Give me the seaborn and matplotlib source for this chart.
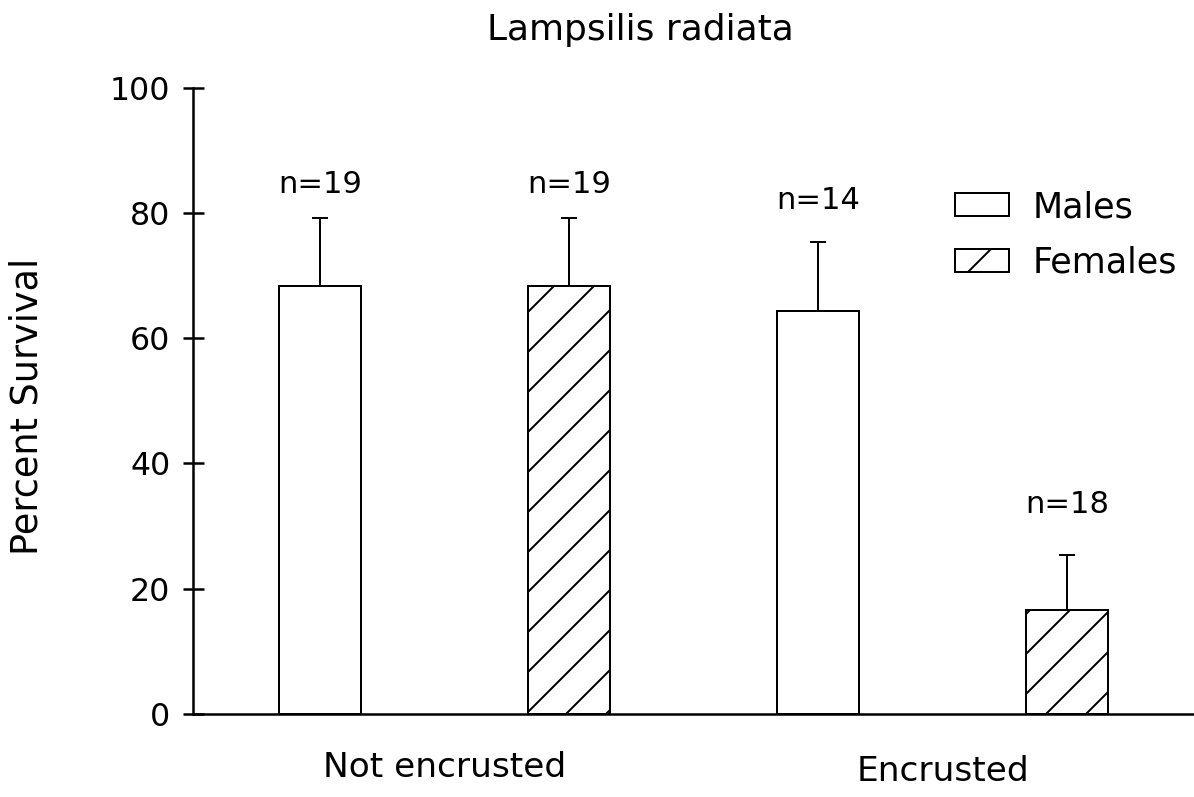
import numpy as np
import pandas as pd
import matplotlib
matplotlib.use("Agg")
import matplotlib.pyplot as plt
import seaborn as sns

# Survival of Lampsilis radiata by sex and zebra-mussel encrustation
conditions = ["Not encrusted", "Encrusted"]
sexes = ["Males", "Females"]
male_survival = [68.3, 64.4]
female_survival = [68.3, 16.6]
male_se = [10.8, 11.0]
female_se = [10.8, 8.8]
male_n = [19, 14]
female_n = [19, 18]

# vertical placement of the sample-size annotations (data units)
n_label_y = [84.5, 84.5, 82.0, 33.5]

rows = []
for i, cond in enumerate(conditions):
    rows.append(dict(bar=f"{cond} | Males", condition=cond, sex="Males",
                     survival=male_survival[i], se=male_se[i], n=male_n[i]))
    rows.append(dict(bar=f"{cond} | Females", condition=cond, sex="Females",
                     survival=female_survival[i], se=female_se[i], n=female_n[i]))
df = pd.DataFrame(rows)
order = list(df["bar"])

sns.set_theme(style="white")
plt.rcParams["font.family"] = ["DejaVu Sans"]
plt.rcParams["hatch.linewidth"] = 0.6
plt.rcParams["hatch.color"] = "black"
plt.rcParams["text.color"] = "black"
plt.rcParams["axes.labelcolor"] = "black"

DPI = 240
fig = plt.figure(figsize=(1194 / DPI, 797 / DPI), dpi=DPI)
ax = fig.add_axes([193 / 1194, 1 - 714 / 797, 1 - 193 / 1194, (714 - 87.5) / 797])

sns.barplot(data=df, x="bar", y="survival", hue="sex", order=order,
            hue_order=sexes, dodge=False, width=0.333,
            palette={"Males": "white", "Females": "white"},
            edgecolor="black", linewidth=0.6, errorbar=None, legend=False, ax=ax)

# hatch the female bars
for patch in ax.containers[1]:
    patch.set_hatch("//")

# upper-only standard error bars
pos = np.arange(len(order))
ax.errorbar(pos, df["survival"], yerr=[np.zeros(len(df)), df["se"]],
            fmt="none", ecolor="black", elinewidth=0.6, capsize=2.4,
            capthick=0.6, zorder=3)

# sample sizes
for x, ny, n in zip(pos, n_label_y, df["n"]):
    ax.text(x, ny, f"n={n}", ha="center", va="center", fontsize=9.2)

# group labels under the axis
group_y = [-0.085, -0.092]
for gi, cond in enumerate(conditions):
    xs = [k for k, b in enumerate(order) if b.startswith(cond + " |")]
    ax.text(np.mean(xs), group_y[gi], cond, ha="center", va="center",
            fontsize=10.3, transform=ax.get_xaxis_transform())

ax.set_xlim(-0.51, 3.51)
ax.set_ylim(0, 100)
ax.set_yticks([0, 20, 40, 60, 80, 100])
ax.set_xlabel("")
ax.set_ylabel("Percent Survival", fontsize=11, color="black")
ax.yaxis.label.set_va("center")
ax.yaxis.set_label_coords((27.5 - 193) / 1001, (714 - 406) / 626.5)

for side in ["top", "right"]:
    ax.spines[side].set_visible(False)
for side in ["left", "bottom"]:
    ax.spines[side].set_color("black")
    ax.spines[side].set_linewidth(0.75)
ax.tick_params(axis="y", direction="inout", length=6.3, width=0.75,
               pad=3.6, labelsize=9.5, colors="black", left=True)
ax.tick_params(axis="x", bottom=False, labelbottom=False)

handles = [ax.containers[0][0], ax.containers[1][0]]
ax.legend(handles, sexes, loc="upper left",
          bbox_to_anchor=(955 / 1194, 1 - 190 / 797),
          bbox_transform=fig.transFigure, frameon=False, fontsize=10.5,
          handlelength=1.55, handleheight=0.63, handletextpad=0.66,
          labelspacing=0.62, borderpad=0, borderaxespad=0)

fig.text(640 / 1194, 1 - 30 / 797, "Lampsilis radiata", ha="center",
         va="center", fontsize=10.8)

fig.savefig("out.png", dpi=DPI, facecolor="white")
